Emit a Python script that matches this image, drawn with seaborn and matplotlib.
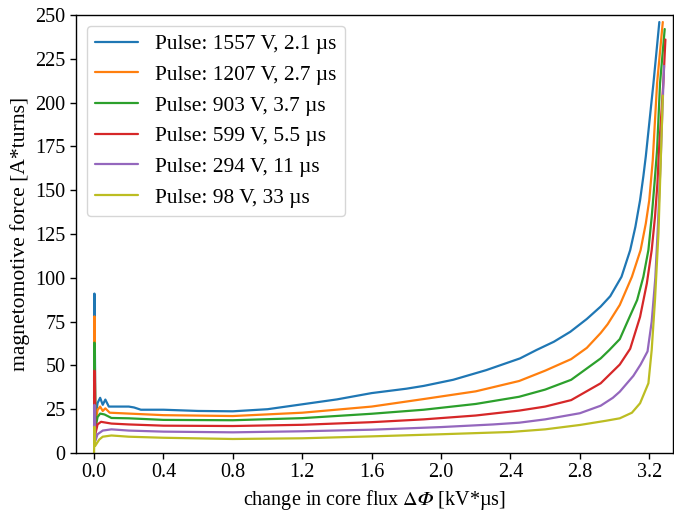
import matplotlib
matplotlib.use("Agg")
import matplotlib.pyplot as plt
import numpy as np
import pandas as pd
import seaborn as sns

# ---- data ----
labels = [
    "Pulse: 1557 V, 2.1 µs",
    "Pulse: 1207 V, 2.7 µs",
    "Pulse: 903 V, 3.7 µs",
    "Pulse: 599 V, 5.5 µs",
    "Pulse: 294 V, 11 µs",
    "Pulse: 98 V, 33 µs",
]

flux_1557 = [0, 0.002, 0.008, 0.02, 0.035, 0.05, 0.065, 0.085, 0.12, 0.2, 0.23, 0.27, 0.4, 0.6,
             0.8, 1.0, 1.2, 1.4, 1.6, 1.8, 1.9, 2.07, 2.26, 2.455, 2.55, 2.65, 2.745, 2.84, 2.92,
             2.975, 3.04, 3.09, 3.12, 3.147, 3.166, 3.18, 3.224, 3.258]
mmf_1557 = [41, 91, 20, 28.5, 31.5, 27.5, 30.5, 26.5, 26.5, 26.5, 26, 24.7, 24.7, 24, 23.8, 25,
            27.8, 30.6, 34.2, 36.7, 38.3, 41.8, 47.3, 54, 58.8, 63.5, 69.2, 76.5, 83.6, 89.5,
            100.6, 115.8, 129.1, 144.3, 158, 169.3, 211, 246]

flux_1207 = [0, 0.002, 0.008, 0.02, 0.035, 0.05, 0.065, 0.09, 0.2, 0.4, 0.8, 1.2, 1.6, 1.9, 2.2,
             2.45, 2.6, 2.75, 2.84, 2.92, 2.96, 3.03, 3.1, 3.15, 3.18, 3.2, 3.22, 3.245, 3.278]
mmf_1207 = [36, 78, 17, 24.5, 26.5, 24, 25.5, 23, 22.5, 21.6, 21.1, 23, 26.5, 30.8, 35.2, 41.1,
            47, 53.6, 60, 68.5, 73.5, 84.5, 100.6, 115.8, 131, 144.3, 167, 211, 246]

flux_903 = [0, 0.002, 0.008, 0.02, 0.035, 0.06, 0.1, 0.2, 0.4, 0.8, 1.2, 1.6, 1.9, 2.2, 2.45,
            2.6, 2.75, 2.92, 2.97, 3.03, 3.07, 3.13, 3.166, 3.195, 3.214, 3.23, 3.245, 3.262, 3.289]
mmf_903 = [31, 63, 14, 20.5, 22.5, 22, 20, 19.8, 18.9, 18.7, 19.9, 22.4, 24.7, 28, 32.1, 36.2,
           41.8, 54, 58.8, 65, 74, 87.3, 100.6, 115.8, 134.8, 153.8, 172.9, 211, 242]

flux_599 = [0, 0.002, 0.008, 0.02, 0.04, 0.1, 0.2, 0.4, 0.8, 1.2, 1.6, 1.9, 2.2, 2.45, 2.6, 2.75,
            2.92, 3.03, 3.09, 3.147, 3.186, 3.214, 3.233, 3.247, 3.256, 3.281, 3.293]
mmf_599 = [25, 47, 11, 16.3, 17.8, 16.8, 16.3, 15.6, 15.4, 16.1, 17.6, 19.2, 21.4, 24.2, 26.5,
           30.2, 39.8, 50.5, 59.5, 77.7, 96.8, 115.8, 134.8, 153.8, 172.9, 211, 236]

flux_294 = [0, 0.002, 0.008, 0.02, 0.05, 0.1, 0.2, 0.4, 0.8, 1.2, 1.6, 2.0, 2.3, 2.45, 2.6, 2.8,
            2.92, 2.99, 3.03, 3.108, 3.15, 3.19, 3.214, 3.235, 3.25, 3.265, 3.285]
mmf_294 = [15, 27.5, 7, 10.7, 12.8, 13.5, 12.8, 12.2, 11.8, 12.4, 13.3, 14.8, 16.3, 17.3, 19.2,
           22.7, 27, 31.5, 35, 44, 50.5, 58, 75, 100, 130, 165, 221]

flux_98 = [0, 0.002, 0.006, 0.03, 0.05, 0.1, 0.2, 0.4, 0.8, 1.2, 1.6, 2.0, 2.4, 2.6, 2.8, 2.95,
           3.03, 3.1, 3.147, 3.195, 3.214, 3.233, 3.253, 3.265, 3.278]
mmf_98 = [0, 15, 4, 7.7, 9.3, 10, 9.3, 8.7, 8, 8.4, 9.5, 10.7, 12, 13.5, 16, 18.4, 19.8, 23,
          28.4, 39.8, 58.8, 87.3, 125.5, 163, 204]

x_ticks = [0.0, 0.4, 0.8, 1.2, 1.6, 2.0, 2.4, 2.8, 3.2]
y_ticks = [0, 25, 50, 75, 100, 125, 150, 175, 200, 225, 250]

series = [
    (labels[0], flux_1557, mmf_1557),
    (labels[1], flux_1207, mmf_1207),
    (labels[2], flux_903, mmf_903),
    (labels[3], flux_599, mmf_599),
    (labels[4], flux_294, mmf_294),
    (labels[5], flux_98, mmf_98),
]

frames = []
for lab, fx, mm in series:
    frames.append(pd.DataFrame({"flux": fx, "mmf": mm, "pulse": lab}))
df = pd.concat(frames, ignore_index=True)

# ---- style ----
sns.set_style("ticks")
plt.rcParams["font.family"] = ["Liberation Serif", "DejaVu Serif"]
plt.rcParams["mathtext.fontset"] = "stix"
plt.rcParams["font.size"] = 14.5
for k in ["axes.edgecolor", "xtick.color", "ytick.color", "text.color", "axes.labelcolor"]:
    plt.rcParams[k] = "black"

tab = sns.color_palette("tab10")
colors = [tab[0], tab[1], tab[2], tab[3], tab[4], tab[8]]

fig = plt.figure(figsize=(6.74, 5.11), dpi=100)
ax = fig.add_axes([0.1128, 0.1135, 0.9978 - 0.1128, 0.9706 - 0.1135])

sns.lineplot(data=df, x="flux", y="mmf", hue="pulse", hue_order=labels,
             palette=colors, sort=False, estimator=None, units="pulse",
             linewidth=1.6, ax=ax)

ax.set_xlim(-0.104, 3.334)
ax.set_ylim(0, 250)
ax.set_xticks(x_ticks)
ax.set_xticklabels([f"{t:.1f}" for t in x_ticks])
ax.set_yticks(y_ticks)
ax.tick_params(labelsize=14.5, width=1.0, length=4)
for s in ax.spines.values():
    s.set_linewidth(1.0)
    s.set_color("black")

ax.set_xlabel("change in core flux $\\Delta 𝛷$ [kV*µs]", fontsize=14.5)
ax.set_ylabel("magnetomotive force [A*turns]", fontsize=15.6)

handles, labs = ax.get_legend_handles_labels()
ax.legend(handles, labs, loc="upper left", fontsize=15.4, frameon=True,
          fancybox=True, framealpha=0.8, edgecolor="0.8")

fig.savefig("out.png", dpi=100)
